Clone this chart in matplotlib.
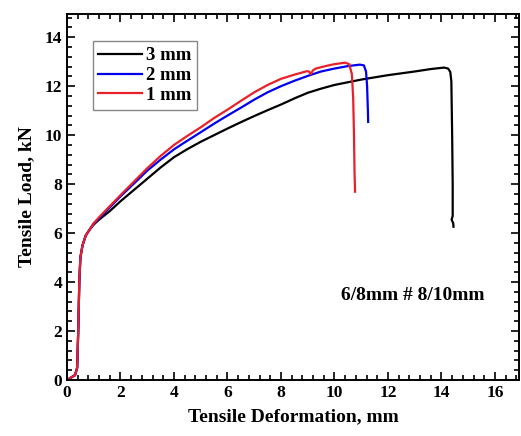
import matplotlib
matplotlib.use("Agg")
import matplotlib.pyplot as plt
from matplotlib.ticker import MultipleLocator

plt.rcParams['font.family'] = ['Liberation Serif', 'DejaVu Serif']
plt.rcParams['font.weight'] = 'bold'

# 3 mm
x3 = [0, 0.3, 0.38, 0.42, 0.46, 0.5, 0.58, 0.7, 0.85, 1.0, 1.2, 1.6, 2.0, 2.5, 3.0, 3.5, 4.0,
      4.5, 5.0, 5.5, 6.0, 6.5, 7.0, 7.5, 8.0, 8.5, 9.0, 9.5, 10.0, 11.0, 12.0, 13.0, 13.6,
      14.1, 14.25, 14.33, 14.37, 14.4, 14.42, 14.42, 14.38, 14.44, 14.45]
y3 = [0, 0.2, 0.5, 2.0, 4.0, 5.0, 5.5, 5.9, 6.15, 6.35, 6.55, 6.9, 7.3, 7.76, 8.22, 8.68, 9.1,
      9.43, 9.73, 10.0, 10.27, 10.53, 10.78, 11.02, 11.25, 11.5, 11.73, 11.9, 12.05, 12.27,
      12.45, 12.6, 12.7, 12.76, 12.72, 12.58, 12.2, 10.0, 8.0, 6.7, 6.55, 6.4, 6.26]

# 2 mm
x2 = [0, 0.3, 0.38, 0.42, 0.46, 0.5, 0.58, 0.7, 0.85, 1.0, 1.2, 1.6, 2.0, 2.5, 3.0, 3.5, 4.0,
      4.35, 5.0, 5.5, 6.0, 6.5, 7.0, 7.5, 8.0, 8.5, 9.08, 9.5, 10.0, 10.5, 10.95, 11.1, 11.18,
      11.22, 11.25, 11.26]
y2 = [0, 0.2, 0.5, 2.0, 4.0, 5.0, 5.5, 5.9, 6.15, 6.4, 6.6, 7.05, 7.5, 8.02, 8.55, 9.0, 9.42,
      9.67, 10.12, 10.47, 10.8, 11.12, 11.45, 11.75, 12.0, 12.22, 12.45, 12.6, 12.72, 12.82,
      12.88, 12.85, 12.6, 12.0, 11.0, 10.54]

# 1 mm
x1 = [0, 0.3, 0.38, 0.42, 0.46, 0.5, 0.58, 0.7, 0.85, 1.0, 1.2, 1.6, 2.0, 2.5, 3.0, 3.5, 4.0,
      4.5, 5.0, 5.5, 6.0, 6.5, 7.0, 7.5, 8.0, 8.5, 8.96, 9.05, 9.11, 9.2, 9.3, 9.7, 10.0, 10.4,
      10.55, 10.65, 10.7, 10.73, 10.75, 10.77]
y1 = [0, 0.2, 0.5, 2.0, 4.0, 5.0, 5.5, 5.9, 6.15, 6.4, 6.65, 7.1, 7.55, 8.1, 8.65, 9.15, 9.6,
      9.97, 10.32, 10.7, 11.04, 11.4, 11.75, 12.05, 12.3, 12.47, 12.61, 12.6, 12.49, 12.65,
      12.72, 12.83, 12.9, 12.96, 12.9, 12.5, 11.5, 10.0, 8.5, 7.69]

labels = ['3 mm', '2 mm', '1 mm']
colors = ['black', '#0000ee', '#e8202a']

fig = plt.figure(figsize=(5.21, 4.36), dpi=100)
ax = fig.add_axes([0.1286, 0.1284, 0.8676, 0.8396])

for xs, ys, lab, c in zip([x3, x2, x1], [y3, y2, y1], labels, colors):
    ax.plot(xs, ys, color=c, lw=1.6, label=lab)

ax.set_xlim(0, 16.9)
ax.set_ylim(0, 14.95)
ax.xaxis.set_major_locator(MultipleLocator(2))
ax.xaxis.set_minor_locator(MultipleLocator(0.4))
ax.yaxis.set_major_locator(MultipleLocator(2))
ax.yaxis.set_minor_locator(MultipleLocator(0.4))
ax.tick_params(which='both', direction='in', top=True, right=True, labelsize=12.5, width=1.2)
ax.tick_params(which='major', length=6)
ax.tick_params(which='minor', length=3.5)
for lab in ax.get_xticklabels() + ax.get_yticklabels():
    lab.set_fontweight('bold')
for s in ax.spines.values():
    s.set_linewidth(1.4)

ax.set_xlabel('Tensile Deformation, mm', fontsize=14, fontweight='bold', labelpad=5)
ax.set_ylabel('Tensile Load, kN', fontsize=14, fontweight='bold', labelpad=7)

ax.text(12.93, 3.47, '6/8mm # 8/10mm', fontsize=14, fontweight='bold',
        ha='center', va='center')

leg = ax.legend(loc='upper left', bbox_to_anchor=(0.057, 0.925), fancybox=False,
                edgecolor='#888888', framealpha=1, handlelength=2.3, handletextpad=0.25,
                borderpad=0.3, labelspacing=0.15, prop={'size': 13.5, 'weight': 'bold'},
                borderaxespad=0)
leg.get_frame().set_linewidth(1.0)

fig.savefig('out.png', dpi=100)
